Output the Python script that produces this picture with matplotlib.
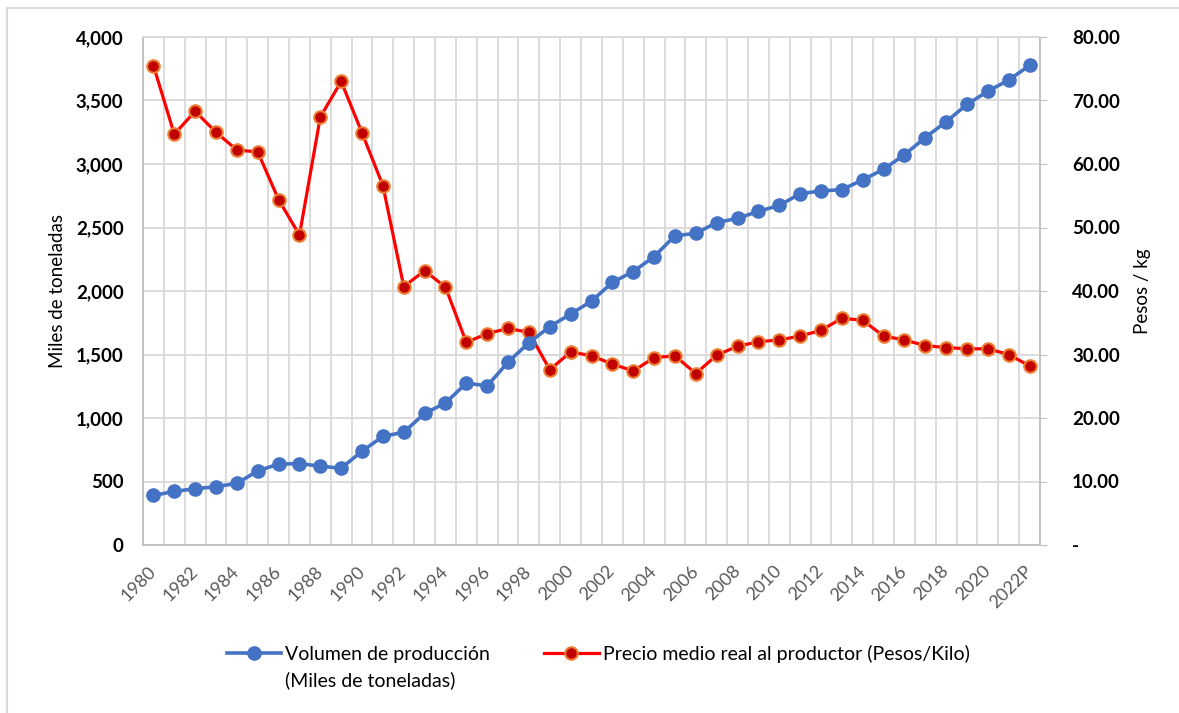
import numpy as np
import matplotlib
matplotlib.use("Agg")
import matplotlib.pyplot as plt
from matplotlib.lines import Line2D
from matplotlib.ticker import FuncFormatter, MultipleLocator, FixedLocator

plt.rcParams['font.family'] = ['Lato', 'DejaVu Sans']

# data
years = [str(y) for y in range(1980, 2022)] + ['2022P']
volumen = [390, 422, 443, 459, 485, 584, 637, 641, 621, 604,
           739, 855, 888, 1036, 1118, 1275, 1253, 1440, 1593, 1719,
           1819, 1920, 2068, 2153, 2271, 2435, 2454, 2539, 2572, 2627,
           2674, 2766, 2788, 2798, 2875, 2958, 3073, 3208, 3333, 3469,
           3573, 3661, 3776]
precio = [75.5, 64.7, 68.3, 65.0, 62.2, 61.9, 54.4, 48.8, 67.4, 73.0,
          64.9, 56.6, 40.7, 43.2, 40.6, 31.9, 33.3, 34.1, 33.5, 27.6,
          30.4, 29.8, 28.5, 27.4, 29.5, 29.8, 27.0, 29.9, 31.3, 32.0,
          32.3, 32.9, 33.8, 35.7, 35.4, 32.9, 32.3, 31.4, 31.1, 30.9,
          30.9, 30.0, 28.2]

W, H = 1179, 713
fig = plt.figure(figsize=(W / 100, H / 100), dpi=100)
rect = [143 / W, 1 - 545 / H, (1040 - 143) / W, (545 - 37) / H]

grid_c = '#D9D9D9'
axis_c = '#BFBFBF'
x = np.arange(len(years))

# bottom axes: price (right axis), grid and x labels
axr = fig.add_axes(rect)
lr, = axr.plot(x, precio, color='#FF0000', lw=2.3, marker='o', ms=9,
               mfc='#C00000', mec='#ED7D31', mew=1.5)
axr.set_ylim(0, 80)
axr.set_xlim(-0.5, len(years) - 0.5)
axr.yaxis.tick_right()
axr.yaxis.set_label_position('right')
axr.yaxis.set_major_locator(MultipleLocator(10))
axr.yaxis.set_major_formatter(FuncFormatter(lambda v, p: '-' if v == 0 else f'{v:.2f}'))
axr.tick_params(axis='y', length=5, color=axis_c, pad=18, labelsize=13.5)
for t in axr.get_yticklabels():
    t.set_fontweight('bold')
axr.set_ylabel('Pesos / kg', fontsize=13.5, rotation=90)
axr.yaxis.set_label_coords((1134 - 143) / 897, 0.5)

axr.xaxis.set_major_locator(FixedLocator(x[::2]))
axr.set_xticklabels(years[::2])
axr.xaxis.set_minor_locator(FixedLocator(np.arange(-0.5, len(years), 1)))
axr.tick_params(axis='x', which='major', length=0, pad=17, labelsize=13,
                labelcolor='#595959')
axr.tick_params(axis='x', which='minor', length=0)
for t in axr.get_xticklabels():
    t.set_rotation(45)
    t.set_ha('right')
    t.set_va('center')
    t.set_rotation_mode('anchor')
axr.grid(axis='x', which='minor', color=grid_c, lw=1.3)
axr.grid(axis='y', which='major', color=grid_c, lw=1.3)
axr.set_axisbelow(True)
for s in ['left', 'right', 'bottom']:
    axr.spines[s].set_color(axis_c)
    axr.spines[s].set_linewidth(1.3)
axr.spines['top'].set_color(grid_c)
axr.spines['top'].set_linewidth(1.3)

# top axes: production volume (left axis)
axl = fig.add_axes(rect, sharex=axr)
axl.patch.set_visible(False)
lb, = axl.plot(x, volumen, color='#4472C4', lw=2.6, marker='o', ms=9.5,
               mfc='#4472C4', mec='#4472C4')
axl.set_ylim(0, 4000)
axl.yaxis.set_major_locator(MultipleLocator(500))
axl.yaxis.set_major_formatter(FuncFormatter(lambda v, p: f'{v:,.0f}'))
axl.tick_params(axis='y', length=0, pad=14, labelsize=13.5)
for t in axl.get_yticklabels():
    t.set_fontweight('bold')
axl.tick_params(axis='x', which='both', bottom=False, labelbottom=False)
axl.set_ylabel('Miles de toneladas', fontsize=13.5)
axl.yaxis.set_label_coords((66 - 143) / 897, 0.5)
for s in axl.spines.values():
    s.set_visible(False)

leg = fig.legend(handles=[lb, lr],
                 labels=['Volumen de producción',
                         'Precio medio real al productor (Pesos/Kilo)'],
                 loc='center', bbox_to_anchor=(598 / W, 1 - 654 / H), ncol=2,
                 frameon=False, fontsize=14, handlelength=2.8,
                 handletextpad=0.2, columnspacing=2.8)

fig.canvas.draw()
bb = leg.get_texts()[0].get_window_extent()
fig.text(bb.x0 / W, (bb.y0 + bb.y1) / 2 / H - 26 / H, '(Miles de toneladas)',
         fontsize=14, ha='left', va='center')

# chart area border (top and left edges visible)
fig.add_artist(Line2D([7 / W, 7 / W], [0, 1 - 8 / H], color=grid_c, lw=1.5))
fig.add_artist(Line2D([7 / W, 1], [1 - 8 / H, 1 - 8 / H], color=grid_c, lw=1.5))

fig.savefig('out.png', dpi=100)
